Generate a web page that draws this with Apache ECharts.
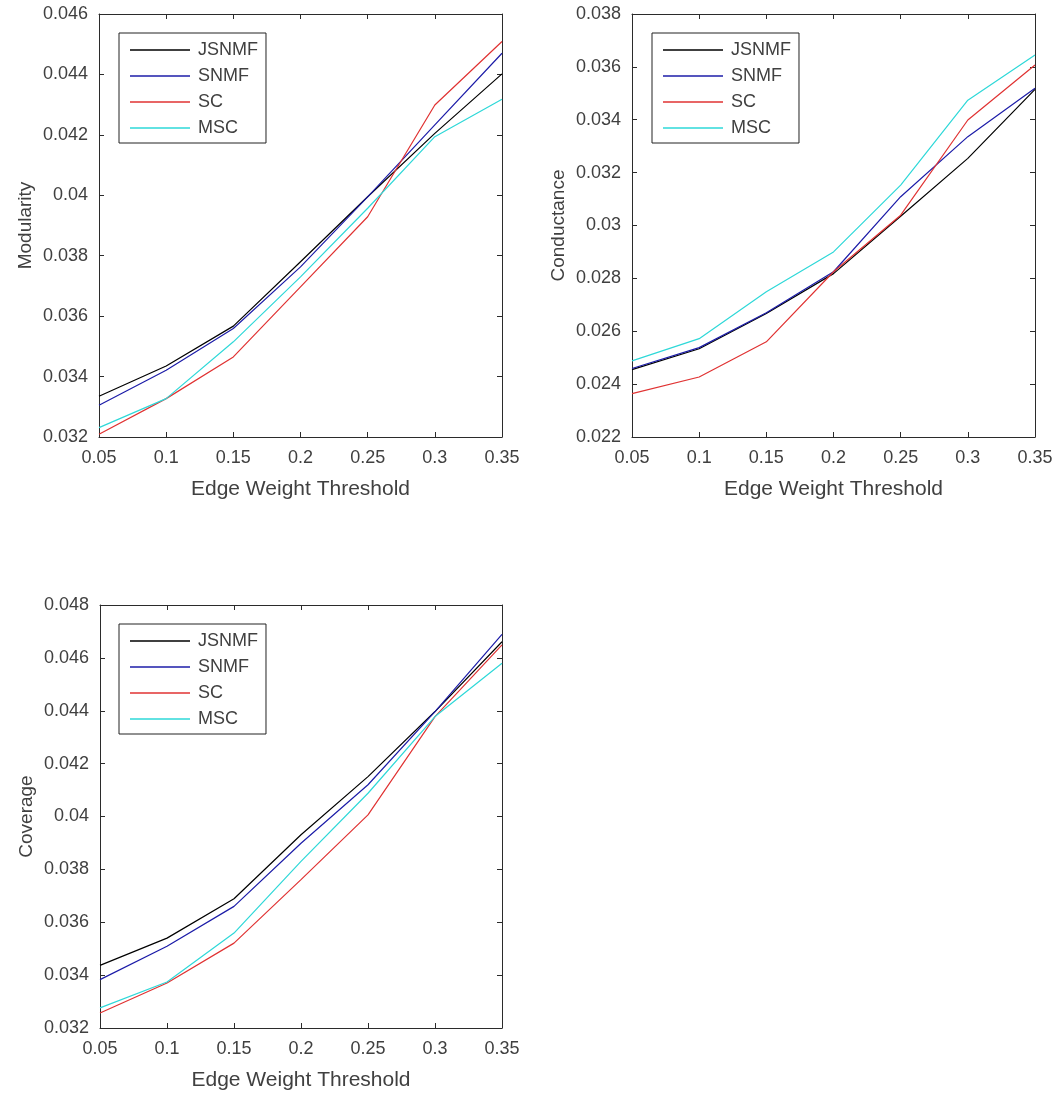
<!DOCTYPE html>
<html>
<head>
<meta charset="utf-8">
<script src="https://cdn.jsdelivr.net/npm/echarts@6/dist/echarts.min.js"></script>
<style>
html,body{margin:0;padding:0;background:#fff;}
#chart{width:1059px;height:1097px;}
</style>
</head>
<body>
<div id="chart"></div>
<script>
const categories = ['0.05','0.1','0.15','0.2','0.25','0.3','0.35'];
const seriesNames = ['JSNMF','SNMF','SC','MSC'];

const modJSNMF = [0.03335, 0.03435, 0.03567, 0.0378, 0.03995, 0.04205, 0.04402];
const modSNMF  = [0.03305, 0.03421, 0.03559, 0.03763, 0.03995, 0.04233, 0.0447];
const modSC    = [0.03209, 0.03327, 0.03465, 0.03697, 0.03929, 0.04299, 0.04509];
const modMSC   = [0.03231, 0.03327, 0.03515, 0.0373, 0.03957, 0.04194, 0.04318];

const conJSNMF = [0.02455, 0.02534, 0.02667, 0.02818, 0.03035, 0.03254, 0.03515];
const conSNMF  = [0.02459, 0.02538, 0.0267, 0.02825, 0.03109, 0.03336, 0.03519];
const conSC    = [0.02364, 0.02427, 0.0256, 0.02825, 0.03039, 0.03399, 0.03607];
const conMSC   = [0.02488, 0.02572, 0.02749, 0.029, 0.03153, 0.03474, 0.03645];

const covJSNMF = [0.03437, 0.0354, 0.03689, 0.03931, 0.04151, 0.04397, 0.04661];
const covSNMF  = [0.03383, 0.03509, 0.0366, 0.03899, 0.0412, 0.04397, 0.04689];
const covSC    = [0.03257, 0.0337, 0.03521, 0.03761, 0.04006, 0.04378, 0.04649];
const covMSC   = [0.03276, 0.03374, 0.03559, 0.0383, 0.04088, 0.04378, 0.0458];

const panels = [
  {title:'Modularity', min:0.032, max:0.046, data:[modJSNMF, modSNMF, modSC, modMSC]},
  {title:'Conductance', min:0.022, max:0.038, data:[conJSNMF, conSNMF, conSC, conMSC]},
  {title:'Coverage', min:0.032, max:0.048, data:[covJSNMF, covSNMF, covSC, covMSC]}
];
const xTitle = 'Edge Weight Threshold';
const yInterval = 0.002;

const colors = ['#000000', '#1c1ca8', '#e03232', '#2ed8d8'];
const grids = [
  {left:99, top:14, width:403, height:423},
  {left:632, top:14, width:403, height:423},
  {left:100, top:605, width:402, height:423}
];
const legendPos = [
  {left:119, top:33},
  {left:652, top:33},
  {left:119, top:624}
];

const FONT = 'Liberation Sans, Arial, Helvetica, sans-serif';
const TXT = '#404040';
const AX = '#2b2b2b';

const xAxes = [], yAxes = [], series = [], legends = [];
panels.forEach((p, gi) => {
  xAxes.push({
    type:'category', gridIndex:gi, data:categories, boundaryGap:false, position:'bottom',
    axisLine:{show:true, lineStyle:{color:AX, width:1}},
    axisTick:{show:true, inside:true, length:5, lineStyle:{color:AX}},
    axisLabel:{color:TXT, fontSize:18, fontFamily:FONT, margin:12},
    splitLine:{show:false},
    name:xTitle, nameLocation:'middle', nameGap:42,
    nameTextStyle:{color:TXT, fontSize:21, fontFamily:FONT}
  });
  xAxes.push({
    type:'category', gridIndex:gi, data:categories, boundaryGap:false, position:'top',
    axisLine:{show:true, lineStyle:{color:AX, width:1}},
    axisTick:{show:true, inside:true, length:5, lineStyle:{color:AX}},
    axisLabel:{show:false}, splitLine:{show:false}
  });
  yAxes.push({
    type:'value', gridIndex:gi, min:p.min, max:p.max, interval:yInterval, position:'left',
    axisLine:{show:true, lineStyle:{color:AX, width:1}},
    axisTick:{show:true, inside:true, length:5, lineStyle:{color:AX}},
    axisLabel:{color:TXT, fontSize:18, fontFamily:FONT, margin:11,
      formatter: v => String(+(+v).toFixed(3))},
    splitLine:{show:false},
    name:p.title, nameLocation:'middle', nameGap:64, nameRotate:90,
    nameTextStyle:{color:TXT, fontSize:19, fontFamily:FONT}
  });
  yAxes.push({
    type:'value', gridIndex:gi, min:p.min, max:p.max, interval:yInterval, position:'right',
    axisLine:{show:true, lineStyle:{color:AX, width:1}},
    axisTick:{show:true, inside:true, length:5, lineStyle:{color:AX}},
    axisLabel:{show:false}, splitLine:{show:false}
  });
  seriesNames.forEach((nm, si) => {
    series.push({
      type:'line', name:nm, xAxisIndex:gi*2, yAxisIndex:gi*2,
      data:p.data[si], symbol:'none', smooth:false,
      lineStyle:{color:colors[si], width:1.2}, itemStyle:{color:colors[si]},
      z:2+si, silent:true
    });
  });
  legends.push({
    data:seriesNames, orient:'vertical', left:legendPos[gi].left, top:legendPos[gi].top,
    width:144,
    padding:[8, 8, 6, 11], itemGap:8, itemWidth:60, itemHeight:14,
    borderColor:'#222', borderWidth:1, backgroundColor:'#fff',
    textStyle:{color:TXT, fontSize:18, fontFamily:FONT, lineHeight:18, padding:[0,0,0,3]},
    icon:'path://M0,0 L60,0 L60,1.3 L0,1.3 Z',
    selectedMode:false
  });
});

const chart = echarts.init(document.getElementById('chart'), null, {renderer:'canvas'});
chart.setOption({
  animation:false,
  backgroundColor:'#ffffff',
  grid:grids.map(g => Object.assign({containLabel:false}, g)),
  xAxis:xAxes, yAxis:yAxes, legend:legends, series:series
});
</script>
</body>
</html>
